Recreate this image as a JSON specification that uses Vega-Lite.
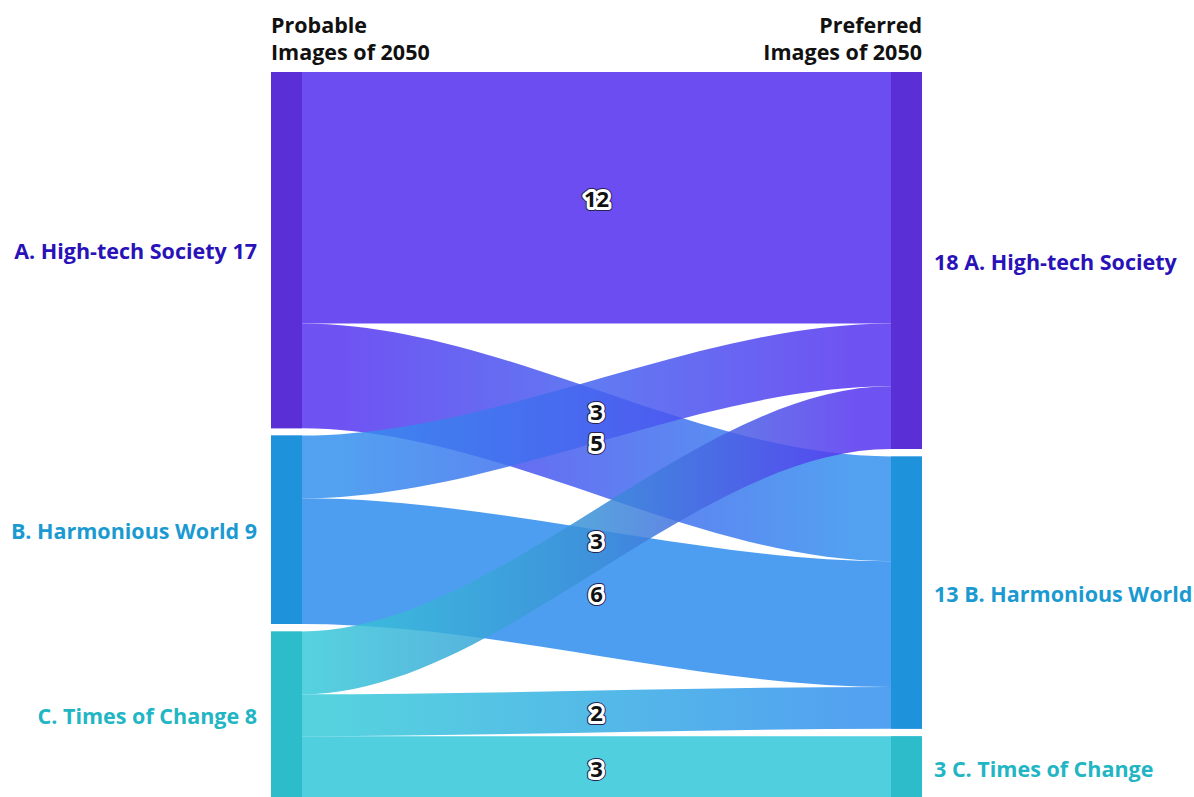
{
  "$schema": "https://vega.github.io/schema/vega-lite/v6.json",
  "width": 1194,
  "height": 727,
  "autosize": {"type": "none"},
  "padding": {"left": 0, "top": 72, "right": 0, "bottom": 0},
  "background": "white",
  "config": {"view": {"stroke": null}, "text": {"font": "Open Sans"}},
  "datasets": {
    "flows": [
      {"flow": "A-A", "stage": 0, "y0": 0, "y1": 12},
      {"flow": "A-A", "stage": 1, "y0": 0, "y1": 12},
      {"flow": "A-A", "stage": 20, "y0": 0, "y1": 12},
      {"flow": "A-A", "stage": 21, "y0": 0, "y1": 12},
      {"flow": "A-B", "stage": 0, "y0": 12, "y1": 17},
      {"flow": "A-B", "stage": 1, "y0": 12, "y1": 17},
      {"flow": "A-B", "stage": 20, "y0": 18.35, "y1": 23.35},
      {"flow": "A-B", "stage": 21, "y0": 18.35, "y1": 23.35},
      {"flow": "B-A", "stage": 0, "y0": 17.35, "y1": 20.35},
      {"flow": "B-A", "stage": 1, "y0": 17.35, "y1": 20.35},
      {"flow": "B-A", "stage": 20, "y0": 12, "y1": 15},
      {"flow": "B-A", "stage": 21, "y0": 12, "y1": 15},
      {"flow": "B-B", "stage": 0, "y0": 20.35, "y1": 26.35},
      {"flow": "B-B", "stage": 1, "y0": 20.35, "y1": 26.35},
      {"flow": "B-B", "stage": 20, "y0": 23.35, "y1": 29.35},
      {"flow": "B-B", "stage": 21, "y0": 23.35, "y1": 29.35},
      {"flow": "C-A", "stage": 0, "y0": 26.7, "y1": 29.7},
      {"flow": "C-A", "stage": 1, "y0": 26.7, "y1": 29.7},
      {"flow": "C-A", "stage": 20, "y0": 15, "y1": 18},
      {"flow": "C-A", "stage": 21, "y0": 15, "y1": 18},
      {"flow": "C-B", "stage": 0, "y0": 29.7, "y1": 31.7},
      {"flow": "C-B", "stage": 1, "y0": 29.7, "y1": 31.7},
      {"flow": "C-B", "stage": 20, "y0": 29.35, "y1": 31.35},
      {"flow": "C-B", "stage": 21, "y0": 29.35, "y1": 31.35},
      {"flow": "C-C", "stage": 0, "y0": 31.7, "y1": 34.7},
      {"flow": "C-C", "stage": 1, "y0": 31.7, "y1": 34.7},
      {"flow": "C-C", "stage": 20, "y0": 31.7, "y1": 34.7},
      {"flow": "C-C", "stage": 21, "y0": 31.7, "y1": 34.7}
    ],
    "nodes": [
      {"node": "A", "side": "left", "x0": 0, "x1": 1, "y0": 0, "y1": 17, "mid": 8.5, "label": "A. High-tech Society 17"},
      {"node": "B", "side": "left", "x0": 0, "x1": 1, "y0": 17.35, "y1": 26.35, "mid": 21.85, "label": "B. Harmonious World 9"},
      {"node": "C", "side": "left", "x0": 0, "x1": 1, "y0": 26.7, "y1": 34.7, "mid": 30.7, "label": "C. Times of Change 8"},
      {"node": "A", "side": "right", "x0": 20, "x1": 21, "y0": 0, "y1": 18, "mid": 9, "label": "18 A. High-tech Society"},
      {"node": "B", "side": "right", "x0": 20, "x1": 21, "y0": 18.35, "y1": 31.35, "mid": 24.85, "label": "13 B. Harmonious World"},
      {"node": "C", "side": "right", "x0": 20, "x1": 21, "y0": 31.7, "y1": 34.7, "mid": 33.2, "label": "3 C. Times of Change"}
    ],
    "flowLabels": [
      {"flow": "A-A", "value": 12, "stage": 10.5, "mid": 6},
      {"flow": "B-A", "value": 3, "stage": 10.5, "mid": 16.175},
      {"flow": "A-B", "value": 5, "stage": 10.5, "mid": 17.675},
      {"flow": "C-A", "value": 3, "stage": 10.5, "mid": 22.35},
      {"flow": "B-B", "value": 6, "stage": 10.5, "mid": 24.85},
      {"flow": "C-B", "value": 2, "stage": 10.5, "mid": 30.525},
      {"flow": "C-C", "value": 3, "stage": 10.5, "mid": 33.2}
    ],
    "headers": [
      {"side": "left", "stage": 0, "pos": -1.86, "text": "Probable\nImages of 2050"},
      {"side": "right", "stage": 21, "pos": -1.86, "text": "Preferred\nImages of 2050"}
    ]
  },
  "encoding": {
    "x": {"field": "stage", "type": "quantitative", "axis": null, "scale": {"domain": [-8.742, 29.774], "nice": false, "zero": false}},
    "y": {"field": "y0", "type": "quantitative", "axis": null, "scale": {"domain": [0, 34.7], "nice": false, "zero": false, "reverse": true}}
  },
  "layer": [
    {
      "data": {"name": "flows"},
      "transform": [{"filter": "datum.flow === 'A-A'"}],
      "mark": {"type": "area", "interpolate": "monotone", "fill": "#5634f0", "fillOpacity": 0.88},
      "encoding": {"y2": {"field": "y1"}}
    },
    {
      "data": {"name": "flows"},
      "transform": [{"filter": "datum.flow === 'A-B'"}],
      "mark": {"type": "area", "interpolate": "monotone", "fillOpacity": 0.85,
        "fill": {"gradient": "linear", "x1": 0, "y1": 0, "x2": 1, "y2": 0, "stops": [{"offset": 0.1, "color": "#5634f0"}, {"offset": 0.9, "color": "#3491ee"}]}},
      "encoding": {"y2": {"field": "y1"}}
    },
    {
      "data": {"name": "flows"},
      "transform": [{"filter": "datum.flow === 'B-A'"}],
      "mark": {"type": "area", "interpolate": "monotone", "fillOpacity": 0.85,
        "fill": {"gradient": "linear", "x1": 0, "y1": 0, "x2": 1, "y2": 0, "stops": [{"offset": 0.1, "color": "#3491ee"}, {"offset": 0.9, "color": "#5634f0"}]}},
      "encoding": {"y2": {"field": "y1"}}
    },
    {
      "data": {"name": "flows"},
      "transform": [{"filter": "datum.flow === 'B-B'"}],
      "mark": {"type": "area", "interpolate": "monotone", "fill": "#3491ee", "fillOpacity": 0.88},
      "encoding": {"y2": {"field": "y1"}}
    },
    {
      "data": {"name": "flows"},
      "transform": [{"filter": "datum.flow === 'C-A'"}],
      "mark": {"type": "area", "interpolate": "monotone", "fillOpacity": 0.85,
        "fill": {"gradient": "linear", "x1": 0, "y1": 0, "x2": 1, "y2": 0, "stops": [{"offset": 0.05, "color": "#38cad9"}, {"offset": 0.5, "color": "#3b8fd8"}, {"offset": 0.9, "color": "#5634f0"}]}},
      "encoding": {"y2": {"field": "y1"}}
    },
    {
      "data": {"name": "flows"},
      "transform": [{"filter": "datum.flow === 'C-B'"}],
      "mark": {"type": "area", "interpolate": "monotone", "fillOpacity": 0.85,
        "fill": {"gradient": "linear", "x1": 0, "y1": 0, "x2": 1, "y2": 0, "stops": [{"offset": 0.1, "color": "#38cad9"}, {"offset": 0.9, "color": "#3491ee"}]}},
      "encoding": {"y2": {"field": "y1"}}
    },
    {
      "data": {"name": "flows"},
      "transform": [{"filter": "datum.flow === 'C-C'"}],
      "mark": {"type": "area", "interpolate": "monotone", "fill": "#38cad9", "fillOpacity": 0.88},
      "encoding": {"y2": {"field": "y1"}}
    },
    {
      "data": {"name": "nodes"},
      "mark": {"type": "rect"},
      "encoding": {
        "x": {"field": "x0", "type": "quantitative"},
        "x2": {"field": "x1"},
        "y": {"field": "y0", "type": "quantitative"},
        "y2": {"field": "y1"},
        "color": {"field": "node", "type": "nominal", "legend": null, "scale": {"domain": ["A", "B", "C"], "range": ["#5a2fd6", "#1e93dc", "#2dbcca"]}}
      }
    },
    {
      "data": {"name": "nodes"},
      "transform": [{"filter": "datum.side === 'left'"}],
      "mark": {"type": "text", "align": "right", "baseline": "middle", "fontSize": 21.5, "fontWeight": 700, "dx": -14, "dy": 3},
      "encoding": {
        "x": {"field": "x0", "type": "quantitative"},
        "y": {"field": "mid", "type": "quantitative"},
        "text": {"field": "label"},
        "color": {"field": "node", "type": "nominal", "legend": null, "scale": {"domain": ["A", "B", "C"], "range": ["#2812b8", "#1b9ad2", "#22b5c3"]}}
      }
    },
    {
      "data": {"name": "nodes"},
      "transform": [{"filter": "datum.side === 'right'"}],
      "mark": {"type": "text", "align": "left", "baseline": "middle", "fontSize": 21.5, "fontWeight": 700, "dx": 12, "dy": 3},
      "encoding": {
        "x": {"field": "x1", "type": "quantitative"},
        "y": {"field": "mid", "type": "quantitative"},
        "text": {"field": "label"},
        "color": {"field": "node", "type": "nominal", "legend": null, "scale": {"domain": ["A", "B", "C"], "range": ["#2812b8", "#1b9ad2", "#22b5c3"]}}
      }
    },
    {
      "data": {"name": "flowLabels"},
      "mark": {"type": "text", "align": "center", "baseline": "middle", "fontSize": 22, "fontWeight": 700, "dy": 2, "fill": "#2a2450", "stroke": "#2a2450", "strokeWidth": 8, "strokeJoin": "round"},
      "encoding": {"y": {"field": "mid", "type": "quantitative"}, "text": {"field": "value"}}
    },
    {
      "data": {"name": "flowLabels"},
      "mark": {"type": "text", "align": "center", "baseline": "middle", "fontSize": 22, "fontWeight": 700, "dy": 2, "fill": "white", "stroke": "white", "strokeWidth": 6, "strokeJoin": "round"},
      "encoding": {"y": {"field": "mid", "type": "quantitative"}, "text": {"field": "value"}}
    },
    {
      "data": {"name": "flowLabels"},
      "mark": {"type": "text", "align": "center", "baseline": "middle", "fontSize": 22, "fontWeight": 700, "dy": 2, "fill": "#111111"},
      "encoding": {"y": {"field": "mid", "type": "quantitative"}, "text": {"field": "value"}}
    },
    {
      "data": {"name": "headers"},
      "transform": [{"filter": "datum.side === 'left'"}],
      "mark": {"type": "text", "align": "left", "baseline": "alphabetic", "fontSize": 21.5, "fontWeight": 700, "lineBreak": "\n", "lineHeight": 27, "fill": "#111111"},
      "encoding": {"y": {"field": "pos", "type": "quantitative"}, "text": {"field": "text"}}
    },
    {
      "data": {"name": "headers"},
      "transform": [{"filter": "datum.side === 'right'"}],
      "mark": {"type": "text", "align": "right", "baseline": "alphabetic", "fontSize": 21.5, "fontWeight": 700, "lineBreak": "\n", "lineHeight": 27, "fill": "#111111"},
      "encoding": {"y": {"field": "pos", "type": "quantitative"}, "text": {"field": "text"}}
    }
  ],
  "resolve": {"scale": {"color": "independent"}}
}
